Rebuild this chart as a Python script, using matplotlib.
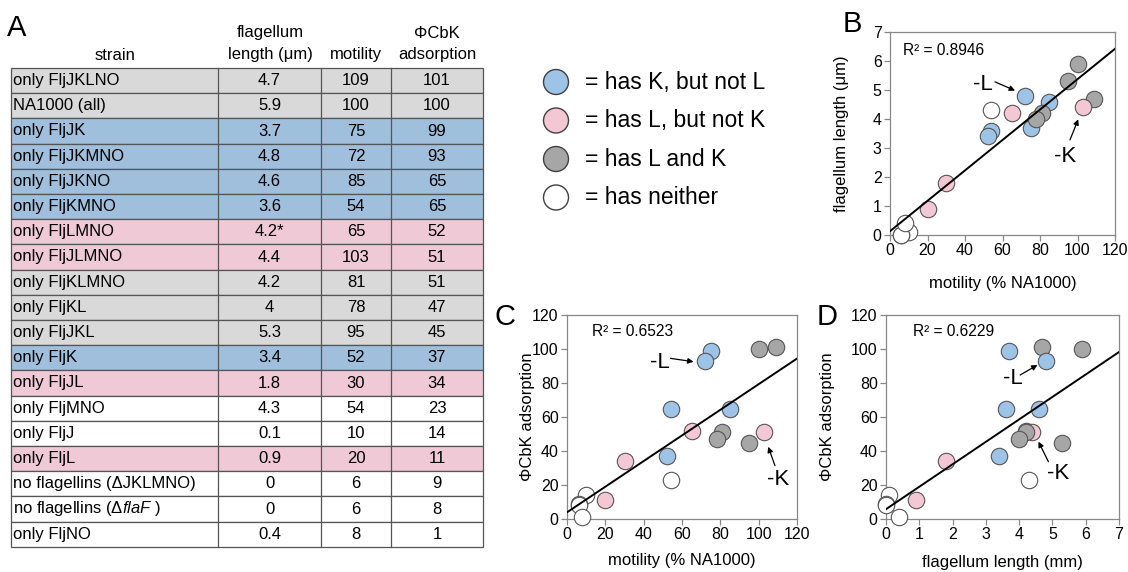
"""Flagellin strain table with motility / length / phage adsorption scatter panels."""

import matplotlib
matplotlib.use("Agg")
import matplotlib.pyplot as plt
from matplotlib.patches import Rectangle, Circle
import numpy as np

plt.rcParams["font.family"] = ["Liberation Sans", "DejaVu Sans"]
plt.rcParams["mathtext.fontset"] = "custom"
plt.rcParams["mathtext.rm"] = "Liberation Sans"
plt.rcParams["mathtext.it"] = "Liberation Sans:italic"

STRAINS = ["only FljJKLNO", "NA1000 (all)", "only FljJK", "only FljJKMNO", "only FljJKNO",
           "only FljKMNO", "only FljLMNO", "only FljJLMNO", "only FljKLMNO", "only FljKL",
           "only FljJKL", "only FljK", "only FljJL", "only FljMNO", "only FljJ", "only FljL",
           "no flagellins (ΔJKLMNO)", r"no flagellins (Δ$\mathit{flaF}$ )", "only FljNO"]
LENGTH = [4.7, 5.9, 3.7, 4.8, 4.6, 3.6, 4.2, 4.4, 4.2, 4, 5.3, 3.4, 1.8, 4.3, 0.1, 0.9, 0, 0, 0.4]
LENGTH_TXT = ["4.7", "5.9", "3.7", "4.8", "4.6", "3.6", "4.2*", "4.4", "4.2", "4", "5.3", "3.4",
              "1.8", "4.3", "0.1", "0.9", "0", "0", "0.4"]
MOTILITY = [109, 100, 75, 72, 85, 54, 65, 103, 81, 78, 95, 52, 30, 54, 10, 20, 6, 6, 8]
ADSORPTION = [101, 100, 99, 93, 65, 65, 52, 51, 51, 47, 45, 37, 34, 23, 14, 11, 9, 8, 1]
GROUP = ["LK", "LK", "K", "K", "K", "K", "L", "L", "LK", "LK", "LK", "K", "L", "none", "none",
         "L", "none", "none", "none"]

ROW_COLORS = {"K": "#a0bfdc", "L": "#efc9d6", "LK": "#d9d9d9", "none": "#ffffff"}
DOT_COLORS = {"K": "#9dc3e6", "L": "#f4c7d5", "LK": "#a6a6a6", "none": "#ffffff"}
LEGEND = [("K", "= has K, but not L"), ("L", "= has L, but not K"),
          ("LK", "= has L and K"), ("none", "= has neither")]

W, H = 1128, 572
fig = plt.figure(figsize=(W / 100, H / 100), dpi=100)
bg = fig.add_axes([0, 0, 1, 1])
bg.set_xlim(0, W); bg.set_ylim(H, 0); bg.axis("off")

# table (panel A)
cols = [11, 218, 321, 391, 483]
top, rh = 68, 25.2
fs = 12
bg.text(7, 36, "A", fontsize=21, va="baseline")
bg.text(115, 55, "strain", fontsize=fs, ha="center", va="center")
bg.text(270, 33, "flagellum", fontsize=fs, ha="center", va="center")
bg.text(270, 55, "length (μm)", fontsize=fs, ha="center", va="center")
bg.text(356, 55, "motility", fontsize=fs, ha="center", va="center")
bg.text(437, 33, "ΦCbK", fontsize=fs, ha="center", va="center")
bg.text(437, 55, "adsorption", fontsize=fs, ha="center", va="center")
for i, name in enumerate(STRAINS):
    y0 = top + i * rh
    bg.add_patch(Rectangle((cols[0], y0), cols[-1] - cols[0], rh, facecolor=ROW_COLORS[GROUP[i]],
                           edgecolor="#555555", linewidth=0.9))
    yc = y0 + rh / 2
    bg.text(13, yc, name, fontsize=fs, va="center")
    for j, val in enumerate([LENGTH_TXT[i], str(MOTILITY[i]), str(ADSORPTION[i])]):
        bg.text((cols[j + 1] + cols[j + 2]) / 2, yc, val, fontsize=fs, ha="center", va="center")
for x in cols[1:-1]:
    bg.plot([x, x], [top, top + rh * len(STRAINS)], color="#555555", linewidth=0.9)

# legend
for k, (g, label) in enumerate(LEGEND):
    yc = 82 + k * 38.5
    bg.add_patch(Circle((556, yc), 12.5, facecolor=DOT_COLORS[g], edgecolor="#404040", linewidth=1))
    bg.text(585, yc, label, fontsize=16.5, va="center")

bg.text(843, 32, "B", fontsize=21, va="baseline")
bg.text(495, 325, "C", fontsize=21, va="baseline")
bg.text(817, 325, "D", fontsize=21, va="baseline")


def panel(l, r, t, b):
    return fig.add_axes([l / W, 1 - b / H, (r - l) / W, (b - t) / H])


def scatter(ax, x, y, xmax, ymax, xstep, ystep, r2, r2pos):
    x = np.array(x, float); y = np.array(y, float)
    for xi, yi, g in zip(x, y, GROUP):
        ax.scatter(xi, yi, s=140, facecolor=DOT_COLORS[g], edgecolor="#555555", linewidth=0.8,
                   zorder=3, clip_on=False)
    slope, icpt = np.polyfit(x, y, 1)
    xs = np.array([0, xmax])
    ax.plot(xs, slope * xs + icpt, color="black", linewidth=1.4, zorder=4)
    ax.set_xlim(0, xmax); ax.set_ylim(0, ymax)
    ax.set_xticks(np.arange(0, xmax + 0.01, xstep)); ax.set_yticks(np.arange(0, ymax + 0.01, ystep))
    ax.tick_params(labelsize=11.5, length=4, color="#888888", width=0.9, pad=2)
    for s in ax.spines.values():
        s.set_color("#888888"); s.set_linewidth(0.9)
    ax.text(*r2pos, r2, fontsize=11.2, va="center", zorder=5)


def note(ax, text, pos, start, end):
    ax.text(*pos, text, fontsize=16, ha="center", va="center", zorder=6)
    ax.annotate("", xy=end, xytext=start, zorder=6,
                arrowprops=dict(arrowstyle="-|>", color="black", lw=0.9, mutation_scale=8,
                                shrinkA=0, shrinkB=0))


axb = panel(890, 1115, 32, 235)
scatter(axb, MOTILITY, LENGTH, 120, 7, 20, 1, "R² = 0.8946", (7, 6.35))
axb.set_xlabel("motility (% NA1000)", fontsize=12, labelpad=13)
axb.set_ylabel("flagellum length (μm)", fontsize=12)
axb.yaxis.set_label_coords(-0.182, 0.5)
note(axb, "-L", (49.4, 5.2), (56, 5.28), (66.7, 4.98))
note(axb, "-K", (93.3, 2.7), (96, 3.28), (100.4, 3.99))

axc = panel(567, 797, 315, 519)
scatter(axc, MOTILITY, ADSORPTION, 120, 120, 20, 20, "R² = 0.6523", (13, 110))
axc.set_xlabel("motility (% NA1000)", fontsize=12, labelpad=8)
axc.set_ylabel("ΦCbK adsorption", fontsize=12)
axc.yaxis.set_label_coords(-0.14, 0.5)
note(axc, "-L", (48.5, 92), (54, 94.5), (66, 92.5))
note(axc, "-K", (110.3, 23.4), (108.5, 31.4), (105, 42.5))

axd = panel(886, 1119, 315, 519)
scatter(axd, LENGTH, ADSORPTION, 7, 120, 1, 20, "R² = 0.6229", (0.8, 110))
axd.set_xlabel("flagellum length (mm)", fontsize=12, labelpad=9)
axd.set_ylabel("ΦCbK adsorption", fontsize=12)
axd.yaxis.set_label_coords(-0.22, 0.5)
note(axd, "-L", (3.81, 82.8), (4.03, 84.7), (4.55, 90.6))
note(axd, "-K", (5.18, 26.9), (4.88, 33.7), (4.58, 45.5))

fig.savefig("out.png", dpi=100)
